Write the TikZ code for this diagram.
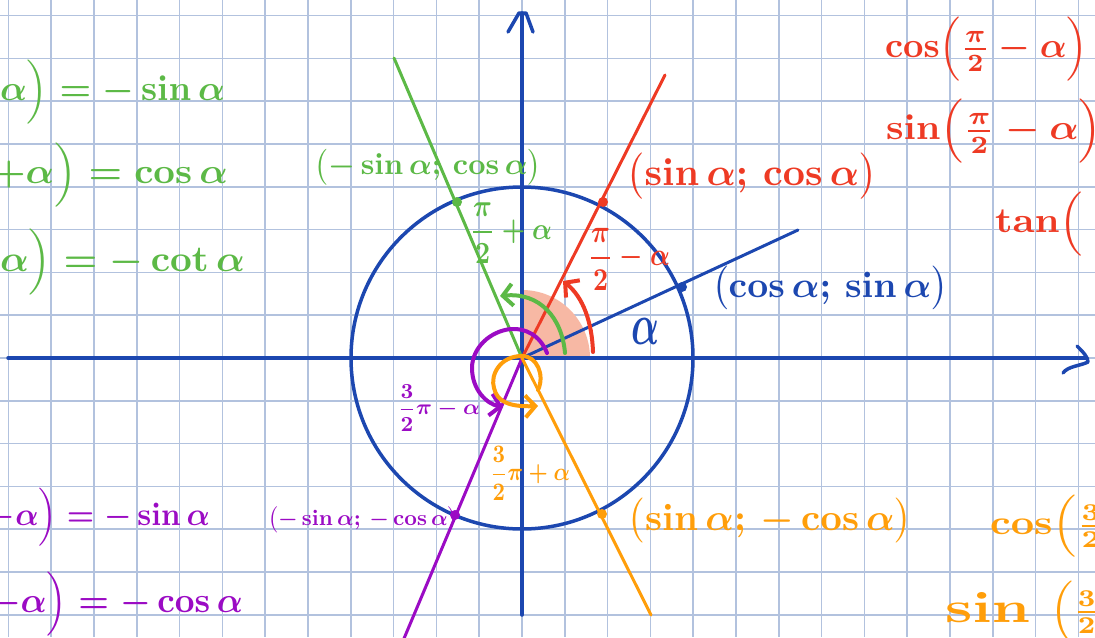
\documentclass[tikz,border=0pt]{standalone}
\usepackage{graphicx}
\usetikzlibrary{arrows.meta}
\definecolor{gridc}{HTML}{B2C2DE}
\definecolor{axb}{HTML}{1C47B0}
\definecolor{redc}{HTML}{EE3A24}
\definecolor{grnc}{HTML}{5CB946}
\definecolor{purc}{HTML}{9B0BC4}
\definecolor{orac}{HTML}{FF9E0A}
\definecolor{salm}{HTML}{F7B8A4}
\newcommand{\fw}[2]{\resizebox{\dimexpr #1pt/2\relax}{!}{\boldmath$#2$}}
\newcommand{\fwh}[3]{\resizebox*{\dimexpr #1pt/2\relax}{\dimexpr #2pt/2\relax}{\boldmath$#3$}}
\tikzset{
  gridline/.style={gridc, line width=0.75pt},
  axisline/.style={axb, line width=1.75pt, line cap=round, line join=round},
  ray/.style={line width=1.5pt, line cap=round},
  arcline/.style={line width=2pt, line cap=round, line join=round, -{Straight Barb[length=5pt,width=11pt,line width=2pt]}},
  lbl/.style={inner sep=0pt, outer sep=0pt},
  dot/.style={radius=5}
}
\begin{document}
\begin{tikzpicture}[x=0.5pt, y=-0.5pt]
\useasboundingbox (0,0) rectangle (1095,637);
\clip (0,0) rectangle (1095,637);
\fill[white] (0,0) rectangle (1095,637);
% grid
\foreach \k in {0,...,25} \draw[gridline] ({8.4+42.8*\k},0) -- ({8.4+42.8*\k},637);
\foreach \k in {0,...,14} \draw[gridline] (0,{15.6+42.8*\k}) -- (1095,{15.6+42.8*\k});
% coordinates
\coordinate (O) at (522,358);
\coordinate (xs) at (8,358);
\coordinate (xe) at (1086,358);
\coordinate (ys) at (522,615);
\coordinate (ye) at (522,13);
\coordinate (bE) at (798,230);
\coordinate (rE) at (665,75);
\coordinate (gE) at (394,58);
\coordinate (pE) at (400,648);
\coordinate (oE) at (651,615);
\coordinate (bP) at (682,287);
\coordinate (rP) at (603,202);
\coordinate (gP) at (457,202);
\coordinate (pP) at (455,515);
\coordinate (oP) at (602,514);
% salmon sector
\fill[salm] (O) -- (590,358) arc[start angle=0, end angle=-90, radius=68] -- cycle;
% axes
\draw[axisline] (xs) -- (xe);
\draw[axisline] (ys) -- (ye);
\draw[axisline] (1077,346) .. controls (1083,352) and (1088,357) .. (1088,362) .. controls (1080,366) and (1068,366) .. (1063,373);
\draw[axisline] (508,32) -- (519,13) -- (526,13) -- (533,32);
% circle
\draw[axb, line width=1.75pt] (O) circle[radius=171];
% rays
\draw[ray, axb] (O) -- (bE);
\draw[ray, redc] (O) -- (rE);
\draw[ray, grnc] (O) -- (gE);
\draw[ray, purc] (O) -- (pE);
\draw[ray, orac] (O) -- (oE);
% angle arcs
\draw[arcline, redc] (593,352) .. controls (592,322) and (583,297) .. (563,281);
\draw[arcline, grnc] (565,353) .. controls (562,318) and (540,292) .. (500,296);
\draw[arcline, purc] (547,353) .. controls (540,335) and (525,328) .. (511,329) .. controls (490,331) and (472,348) .. (472,368) .. controls (472,390) and (487,404) .. (503,407);
\draw[arcline, orac] (538,390) .. controls (545,375) and (537,356) .. (522,356) .. controls (500,356) and (490,375) .. (494,388) .. controls (497,402) and (510,407) .. (538,406);
% dots
\fill[axb] (bP) circle[dot];
\fill[redc] (rP) circle[dot];
\fill[grnc] (gP) circle[dot];
\fill[purc] (pP) circle[dot];
\fill[orac] (oP) circle[dot];
% blue labels
\node[lbl, text=axb] (tA) at (645,331) {\fwh{28}{26}{\alpha}};
\node[lbl, text=axb] (tB) at (830,288) {\fw{236}{\bigl(\cos\alpha;\,\sin\alpha\bigr)}};
% red labels
\node[lbl, text=redc] (tRp) at (752,176) {\fw{250}{\bigl(\sin\alpha;\,\cos\alpha\bigr)}};
\node[lbl, text=redc] (tRa) at (629,259) {\fwh{82}{62}{\displaystyle\frac{\pi}{2}-\alpha}};
\node[lbl, text=redc, anchor=west] (tR1) at (885,49) {\fwh{203}{64}{\cos\Bigl(\frac{\pi}{2}-\alpha\Bigr)}};
\node[lbl, text=redc, anchor=west] (tR2) at (886,131) {\fwh{216}{64}{\sin\Bigl(\frac{\pi}{2}-\alpha\Bigr)}};
\node[lbl, text=redc, anchor=west] (tR3) at (995,224) {\fwh{88}{64}{\tan\Bigl(}};
% green labels
\node[lbl, text=grnc] (tGp) at (428,167) {\fw{227}{\bigl(-\sin\alpha;\,\cos\alpha\bigr)}};
\node[lbl, text=grnc] (tGa) at (511,233) {\fwh{82}{60}{\displaystyle\frac{\pi}{2}+\alpha}};
\node[lbl, text=grnc, anchor=west] (tGl1) at (0,92) {\fwh{225}{64}{\alpha\Bigr)=-\sin\alpha}};
\node[lbl, text=grnc, anchor=west] (tGl2) at (-8,175) {\fwh{236}{64}{+\alpha\Bigr)=\cos\alpha}};
\node[lbl, text=grnc, anchor=west] (tGl3) at (0,262) {\fwh{245}{66}{\alpha\Bigr)=-\cot\alpha}};
% purple labels
\node[lbl, text=purc] (tPp) at (363,520) {\fw{190}{\bigl(-\sin\alpha;\,-\cos\alpha\bigr)}};
\node[lbl, text=purc] (tPa) at (439,408) {\fwh{82}{46}{\displaystyle\frac{3}{2}\pi-\alpha}};
\node[lbl, text=purc, anchor=west] (tPl1) at (-12,517) {\fwh{222}{58}{-\alpha\Bigr)=-\sin\alpha}};
\node[lbl, text=purc, anchor=west] (tPl2) at (-10,604) {\fwh{253}{64}{-\alpha\Bigr)=-\cos\alpha}};
% orange labels
\node[lbl, text=orac] (tOp) at (770,521) {\fw{284}{\bigl(\sin\alpha;\,-\cos\alpha\bigr)}};
\node[lbl, text=orac] (tOa) at (530,473) {\fwh{80}{54}{\displaystyle\frac{3}{2}\pi+\alpha}};
\node[lbl, text=orac, anchor=west] (tO1) at (990,526) {\fwh{115}{62}{\cos\Bigl(\frac{3}{2}}};
\node[lbl, text=orac, anchor=west] (tO2) at (945,607) {\fwh{85}{30}{\sin}};
\node[lbl, text=orac, anchor=west] (tO3) at (1050,612) {\fwh{50}{62}{\Bigl(\frac{3}{2}}};
\end{tikzpicture}
\end{document}
